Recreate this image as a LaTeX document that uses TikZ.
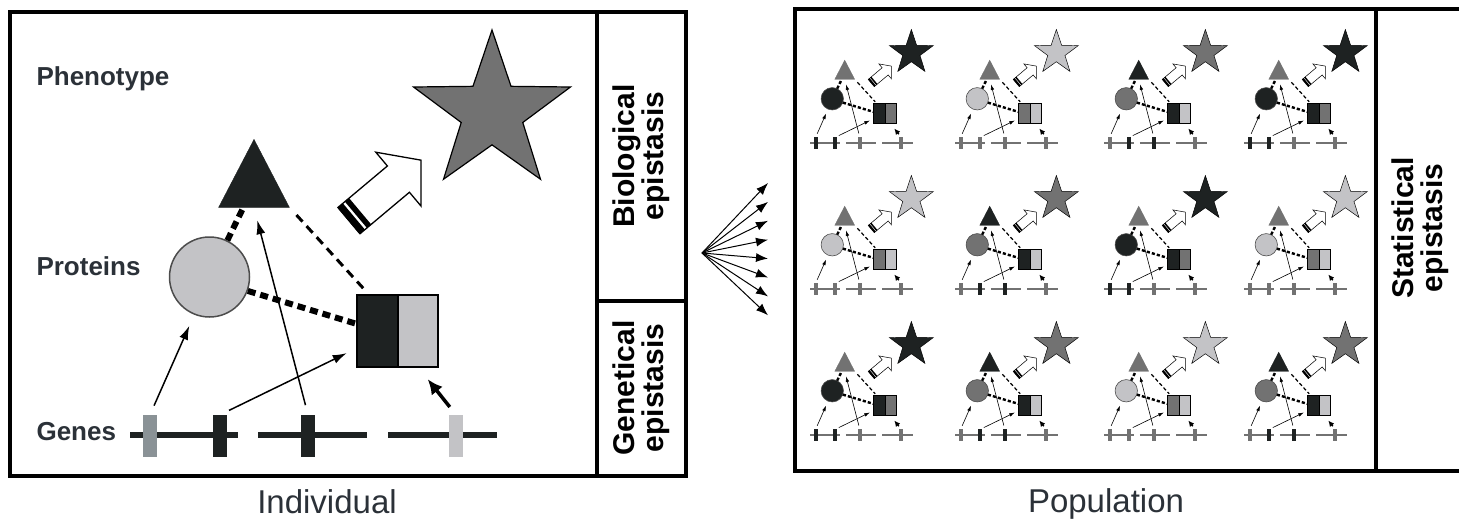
\documentclass[tikz,border=0pt]{standalone}
\usepackage{fontspec}
\setmainfont{Liberation Sans}
\usetikzlibrary{arrows.meta,calc,shapes.geometric,shapes.arrows}
\definecolor{EPDark}{HTML}{1E2222}
\definecolor{EPMid}{HTML}{727272}
\definecolor{EPLight}{HTML}{C3C3C6}
\definecolor{EPSlate}{HTML}{8A9296}
\definecolor{EPText}{HTML}{2B3138}

\begin{document}
\begin{tikzpicture}[
  x=1pt, y=-1pt,
  lw/.code={\def\lwf{#1}}, lw=1,
  paint/.code n args={5}{\def\cStar{#1}\def\cTri{#2}\def\cCirc{#3}\def\cLeft{#4}\def\cRight{#5}},
  alleles/.code n args={5}{\def\cBarA{#1}\def\cBarB{#2}\def\cBarC{#3}\def\cBarD{#4}\def\cGene{#5}},
  panel/.style={line width=3.5},
  lvl/.style={font=\fontsize{26}{30}\selectfont\bfseries, text=EPText, anchor=base west},
  sidetext/.style={font=\fontsize{30}{29}\selectfont\bfseries, align=center, rotate=90},
  caption/.style={font=\fontsize{33}{36}\selectfont, text=EPText, anchor=base},
  gene/.style={line width=6*\lwf},
  bar/.style={rectangle, minimum width=14, minimum height=42, inner sep=0},
  band/.style={rectangle, fill=black, minimum height=34, inner sep=0, rotate=40},
  dot/.style={line width=6*\lwf, dash pattern=on 8*\lwf off 5*\lwf},
  thindot/.style={line width=3*\lwf, dash pattern=on 9*\lwf off 6*\lwf},
  link/.style={-{Latex[length=14pt, width=9pt, scale=\lwf]}, line width=1.5*\lwf},
  push/.style={-{Latex[length=15pt, width=14pt, scale=\lwf]}, line width=3.5*\lwf},
  spread/.style={-{Latex[length=12pt, width=9pt]}, line width=1},
  big/.style={paint={EPMid}{EPDark}{EPLight}{EPDark}{EPLight}, alleles={EPSlate}{EPDark}{EPDark}{EPLight}{EPDark}},
  mini/.style={scale=0.28, transform shape, lw=0.4},
  kindA/.style={paint={EPDark}{EPMid}{EPDark}{EPDark}{EPMid}, alleles={EPDark}{EPDark}{EPMid}{EPMid}{EPMid}},
  kindB/.style={paint={EPLight}{EPMid}{EPLight}{EPMid}{EPLight}, alleles={EPMid}{EPMid}{EPMid}{EPMid}{EPMid}},
  kindC/.style={paint={EPMid}{EPDark}{EPMid}{EPDark}{EPLight}, alleles={EPMid}{EPDark}{EPDark}{EPMid}{EPMid}},
  kind/.style={kind#1},
  pics/indiv/.style={code={
    \draw[gene, draw=\cGene] (0,0) -- (108,0) (128,0) -- (237,0) (258,0) -- (367,0);
    \foreach \bx/\bc [count=\i] in {20/\cBarA, 90/\cBarB, 178/\cBarC, 326/\cBarD}
      \node[bar, fill=\bc] (-g\i) at (\bx,1) {};
    \node[circle, minimum size=80, inner sep=0, fill=\cCirc, draw=black!70, line width=1.5*\lwf] (-circ) at (79.5,-158) {};
    \node[isosceles triangle, isosceles triangle apex angle=55, shape border rotate=90, minimum size=68, inner sep=0, fill=\cTri, draw=\cTri, anchor=apex] (-tri) at (124,-296) {};
    \node[rectangle, minimum width=81, minimum height=72, inner sep=0, fill=\cRight, draw=black, line width=2.5*\lwf] (-sq) at (267.5,-104) {};
    \node[rectangle, minimum width=41, minimum height=72, inner sep=0, fill=\cLeft, draw=black, line width=2.5*\lwf, anchor=west] (-sqL) at (-sq.west) {};
    \node[single arrow, single arrow head extend=18, single arrow tip angle=100, minimum height=94, inner xsep=0, inner ysep=16.5, fill=white, draw=black, line width=1.3*\lwf, rotate=40, anchor=tail] (-arr) at (218.5,-214) {};
    \node[band, minimum width=7] (-b1) at ($(-arr.tail)!0.037!(-arr.tip)$) {};
    \node[band, minimum width=5.5] (-b2) at ($(-arr.tail)!0.13!(-arr.tip)$) {};
    \node[star, star points=5, star point ratio=2.55, minimum size=165, inner sep=0, fill=\cStar, draw=black, line width=1.2*\lwf] (-star) at (362,-322.5) {};
    \draw[dot] (-circ.64) -- ($(-tri.left corner)!0.35!(-tri.right corner)$);
    \draw[dot] (-circ.-20) -- (-sq.170);
    \draw[thindot, shorten <=10*\lwf, shorten >=6*\lwf] (-tri.right corner) -- ($(-sq.north west)!0.15!(-sq.north east)$);
    \draw[link, shorten <=10*\lwf, shorten >=12*\lwf] (-g1.north) -- (-circ.248);
    \draw[link, shorten <=10*\lwf, shorten >=10*\lwf] (-g2.north) -- (-sq.-157);
    \draw[link, shorten <=10*\lwf, shorten >=13*\lwf] (-g3.north) -- (-tri.lower side);
    \draw[push, shorten <=10*\lwf, shorten >=14*\lwf] (-g4.north) -- (-sq.-60);
  }}
]
\useasboundingbox (0,0) rectangle (1459,519);
\draw[panel] (10,12) rectangle (686,476);
\draw[panel] (597,12) -- (597,476) (597,301) -- (686,301);
\draw[panel] (795,9) rectangle (1475,471);
\draw[panel] (1376,9) -- (1376,471);
\node[lvl] (phen) at (33,85) {Phenotype};
\node[lvl] (prot) at (33,275) {Proteins};
\node[lvl] (gens) at (33,440) {Genes};
\pic[big] (ind) at (130,435) {indiv};
\node[sidetext] (bio) at (641,156) {Biological\\epistasis};
\node[sidetext] (gen) at (641,388) {Genetical\\epistasis};
\node[caption] (indl) at (327,513) {Individual};
\coordinate (fan) at (702,253);
\foreach \j in {0,...,7} {
  \coordinate (tip\j) at (768,183+18.9*\j);
  \draw[spread] (fan) -- (tip\j);
}
\foreach \xx/\yy/\kk [count=\cell] in {810/143/A, 955/143/B, 1104/143/C, 1244/143/A,
    810/289/B, 955/289/C, 1104/289/A, 1244/289/B,
    810/435/A, 955/435/C, 1104/435/B, 1244/435/C}
  \pic[mini, kind/.expanded=\kk] (m\cell) at (\xx,\yy) {indiv};
\node[sidetext] (stat) at (1420,228) {Statistical\\epistasis};
\node[caption] (popl) at (1106,512) {Population};
\end{tikzpicture}
\end{document}
